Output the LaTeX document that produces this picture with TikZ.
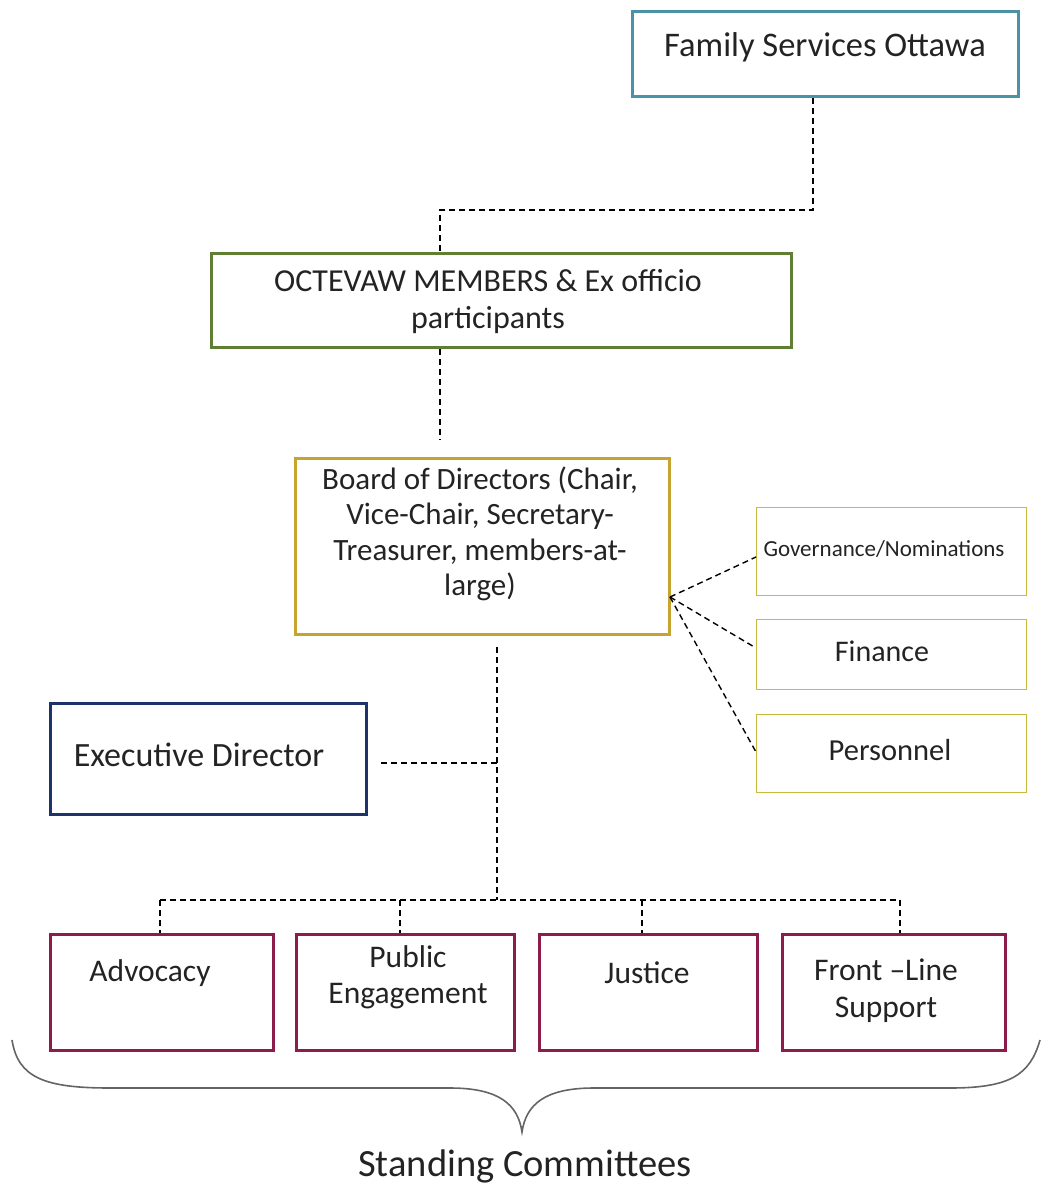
\documentclass[tikz,border=0pt]{standalone}
\usepackage{fontspec}
\setmainfont{Carlito}
\begin{document}
\begin{tikzpicture}[x=1pt,y=-1pt,
  box/.style={draw,rectangle,inner sep=0pt,anchor=north west},
  thickbox/.style={box,line width=3pt},
  thinbox/.style={box,line width=1.4pt,draw=subcol},
  lbl/.style={inner sep=0pt,align=center,text=textcol,font=\fontsize{31}{36}\selectfont},
  link/.style={dashed,line width=1.4pt,dash pattern=on 6pt off 4pt}]
\definecolor{fsocol}{RGB}{74,146,166}
\definecolor{memcol}{RGB}{96,126,52}
\definecolor{boardcol}{RGB}{198,164,48}
\definecolor{subcol}{RGB}{200,186,60}
\definecolor{execcol}{RGB}{30,50,108}
\definecolor{comcol}{RGB}{140,28,76}
\definecolor{bracecol}{RGB}{100,100,100}
\definecolor{textcol}{RGB}{35,35,35}
\useasboundingbox (0,0) rectangle (1044,1192);

% boxes
\node[thickbox,draw=fsocol,minimum width=386pt,minimum height=85pt] (fso) at (631,10) {};
\node[thickbox,draw=memcol,minimum width=580pt,minimum height=94pt] (mem) at (210,252) {};
\node[thickbox,draw=boardcol,minimum width=374pt,minimum height=176pt] (board) at (294,457) {};
\node[thinbox,minimum width=270pt,minimum height=88pt] (gov) at (756,507) {};
\node[thinbox,minimum width=270pt,minimum height=70pt] (fin) at (756,619) {};
\node[thinbox,minimum width=270pt,minimum height=78pt] (per) at (756,714) {};
\node[thickbox,draw=execcol,minimum width=316pt,minimum height=111pt] (exec) at (49,702) {};
\node[thickbox,draw=comcol,minimum width=223pt,minimum height=116pt] (adv) at (49,933) {};
\node[thickbox,draw=comcol,minimum width=218pt,minimum height=116pt] (pub) at (295,933) {};
\node[thickbox,draw=comcol,minimum width=218pt,minimum height=116pt] (jus) at (538,933) {};
\node[thickbox,draw=comcol,minimum width=223pt,minimum height=116pt] (fro) at (781,933) {};

% texts
\node[lbl,font=\fontsize{34.5}{40}\selectfont] (fsot) at (825,47) {Family Services Ottawa};
\node[lbl,font=\fontsize{32}{37}\selectfont] (memt) at (488,302) {OCTEVAW MEMBERS \& Ex officio\\participants};
\node[lbl,font=\fontsize{31}{35.5}\selectfont] (boardt) at (480,534) {Board of Directors (Chair,\\Vice-Chair, Secretary-\\Treasurer, members-at-\\large)};
\node[lbl,font=\fontsize{23}{27}\selectfont] (govt) at (884,549) {Governance/Nominations};
\node[lbl,font=\fontsize{30}{34}\selectfont] (fint) at (882,651) {Finance};
\node[lbl,font=\fontsize{30.5}{34}\selectfont] (pert) at (890,750) {Personnel};
\node[lbl,font=\fontsize{34}{38}\selectfont] (exect) at (199,755) {Executive Director};
\node[lbl,font=\fontsize{31.5}{36}\selectfont] (advt) at (150,973) {Advocacy};
\node[lbl,font=\fontsize{31.5}{36}\selectfont] (pubt) at (408,977) {Public\\Engagement};
\node[lbl,font=\fontsize{31.5}{36}\selectfont] (just) at (647,973) {Justice};
\node[lbl,font=\fontsize{31.5}{37}\selectfont] (frot) at (886,991) {Front --Line\\Support};
\node[lbl,font=\fontsize{38.5}{42}\selectfont] (stand) at (525,1166) {Standing Committees};

% connectors
\coordinate (bend1) at (813,210);
\coordinate (bend2) at (440,210);
\draw[link] (fso.south -| bend1) -- (bend1) -- (bend2) -- (bend2 |- mem.north);
\coordinate (memend) at (440,440);
\draw[link] (memend |- mem.south) -- (memend);

\coordinate (fan) at (670,597);
\draw[link] (fan) -- (gov.west |- 0,557);
\draw[link] (fan) -- (fin.west |- 0,648);
\draw[link] (fan) -- (per.west |- 0,752);

\coordinate (trunktop) at (497,647);
\coordinate (junc) at (497,763);
\coordinate (bar) at (497,900);
\draw[link] (trunktop) -- (bar);
\draw[link] (exec.east |- junc) ++(13,0) coordinate (execend) -- (junc);
\draw[link] (160,900) coordinate (barL) -- (900,900) coordinate (barR);
\draw[link] (barL) -- (barL |- adv.north);
\draw[link] (400,900) -- (400,933) coordinate (pubtop);
\draw[link] (642,900) -- (642,933) coordinate (justop);
\draw[link] (barR) -- (barR |- fro.north);

% brace under the committees
\draw[bracecol,line width=1.6pt]
  (12,1040) .. controls (18,1078) and (45,1088) .. (110,1088)
  -- (450,1088) .. controls (500,1088) and (518,1105) .. (522,1132)
  .. controls (526,1105) and (544,1088) .. (594,1088)
  -- (950,1088) .. controls (1010,1088) and (1030,1075) .. (1040,1040);
\end{tikzpicture}
\end{document}
